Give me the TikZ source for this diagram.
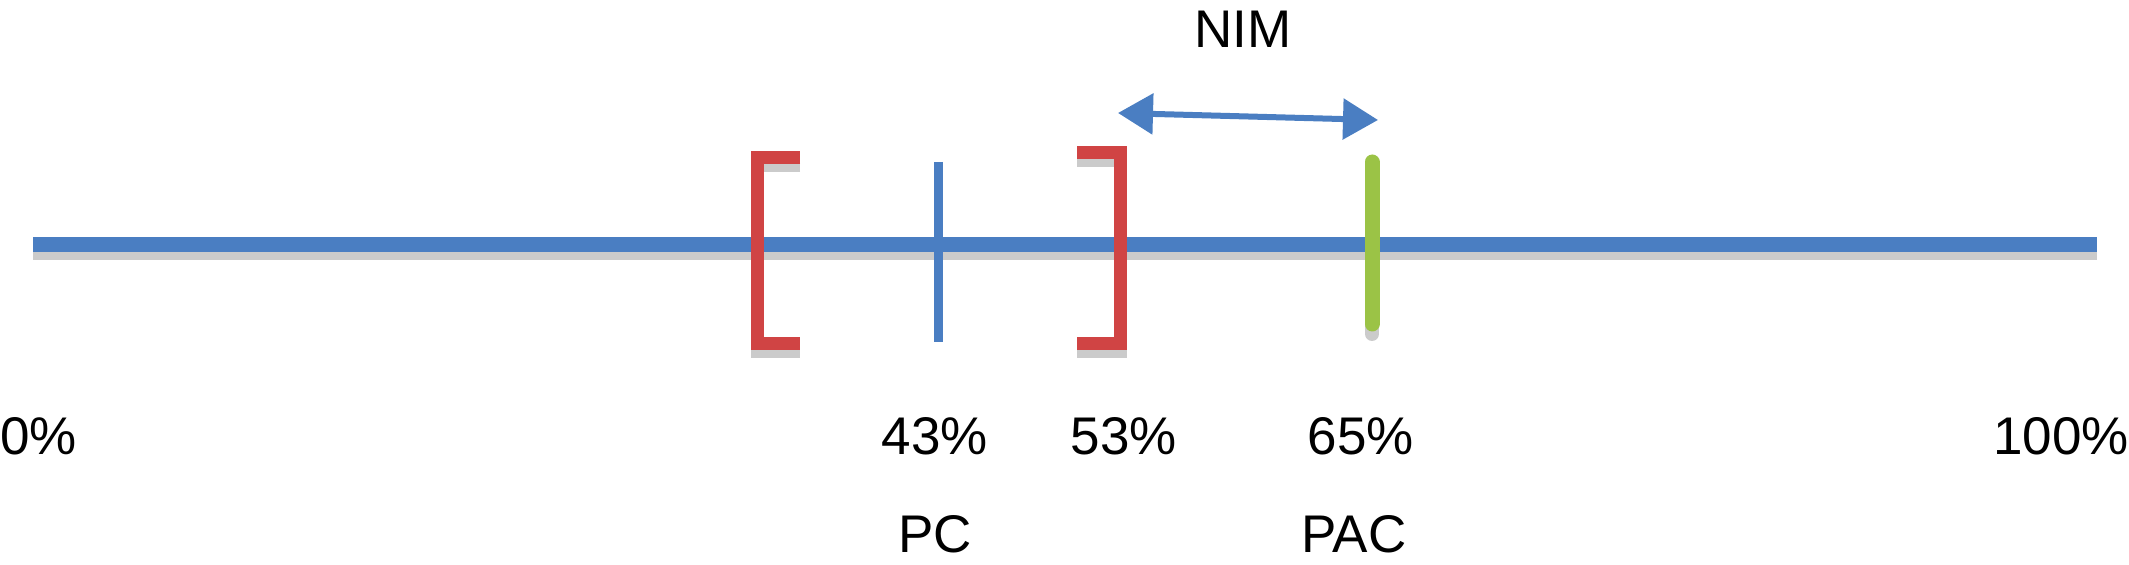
\documentclass[tikz,border=0pt]{standalone}
\usepackage{fontspec}
\setmainfont{Liberation Sans}
\usetikzlibrary{arrows.meta}
\definecolor{axisblue}{RGB}{74,126,194}
\definecolor{brred}{RGB}{208,68,68}
\definecolor{pacgreen}{RGB}{155,195,70}
\tikzset{
  lbl/.style={font=\fontsize{26.5pt}{30pt}\selectfont, inner sep=0pt, text=black},
  shadow/.style={draw=black!45, opacity=0.45},
  bracket/.style={draw=brred, line width=6.5pt, line join=miter},
  nimarrow/.style={draw=axisblue, line width=3pt, {Triangle[length=17.5pt,width=20pt]}-{Triangle[length=17.5pt,width=20pt]}}
}
\begin{document}
\begin{tikzpicture}[x=0.5pt,y=-0.5pt]
\useasboundingbox (0,0) rectangle (2129,565);
% axis
\coordinate (axL) at (33,245);
\coordinate (axR) at (2097,245);
\draw[shadow, line width=6pt] ([yshift=-4.5pt]axL) -- ([yshift=-4.5pt]axR);
\draw[axisblue, line width=7.5pt] (axL) -- (axR);
% left bracket
\coordinate (lb1) at (800,158);
\coordinate (lb2) at (757,158);
\coordinate (lb3) at (757,344);
\coordinate (lb4) at (800,344);
\draw[shadow, line width=6.5pt] ([yshift=-4pt]lb1) -- ([yshift=-4pt]lb2) -- ([yshift=-4pt]lb3) -- ([yshift=-4pt]lb4);
\draw[bracket] (lb1) -- (lb2) -- (lb3) -- (lb4);
% right bracket
\coordinate (rb1) at (1077,153);
\coordinate (rb2) at (1120,153);
\coordinate (rb3) at (1120,344);
\coordinate (rb4) at (1077,344);
\draw[shadow, line width=6.5pt] ([yshift=-4pt]rb1) -- ([yshift=-4pt]rb2) -- ([yshift=-4pt]rb3) -- ([yshift=-4pt]rb4);
\draw[bracket] (rb1) -- (rb2) -- (rb3) -- (rb4);
% PC tick
\coordinate (pcT) at (938,162);
\coordinate (pcB) at (938,342);
\draw[axisblue, line width=4.5pt] (pcT) -- (pcB);
% PAC tick
\coordinate (pacT) at (1372,162);
\coordinate (pacB) at (1372,324);
\draw[shadow, line width=7pt, line cap=round] ([yshift=-5pt]pacT) -- ([yshift=-5pt]pacB);
\draw[pacgreen, line width=7.5pt, line cap=round] (pacT) -- (pacB);
% NIM arrow
\coordinate (nimL) at (1118,113);
\coordinate (nimR) at (1378,120);
\draw[nimarrow] (nimL) -- (nimR);
% labels
\node[lbl, anchor=base] (nim) at (1243,48) {NIM};
\node[lbl, anchor=base west] (p0) at (0,455) {0\%};
\node[lbl, anchor=base] (p43) at (935,455) {43\%};
\node[lbl, anchor=base] (p53) at (1124,455) {53\%};
\node[lbl, anchor=base] (p65) at (1361,455) {65\%};
\node[lbl, anchor=base east] (p100) at (2129,455) {100\%};
\node[lbl, anchor=base] (pc) at (935,553) {PC};
\node[lbl, anchor=base] (pac) at (1354,553) {PAC};
\end{tikzpicture}
\end{document}
